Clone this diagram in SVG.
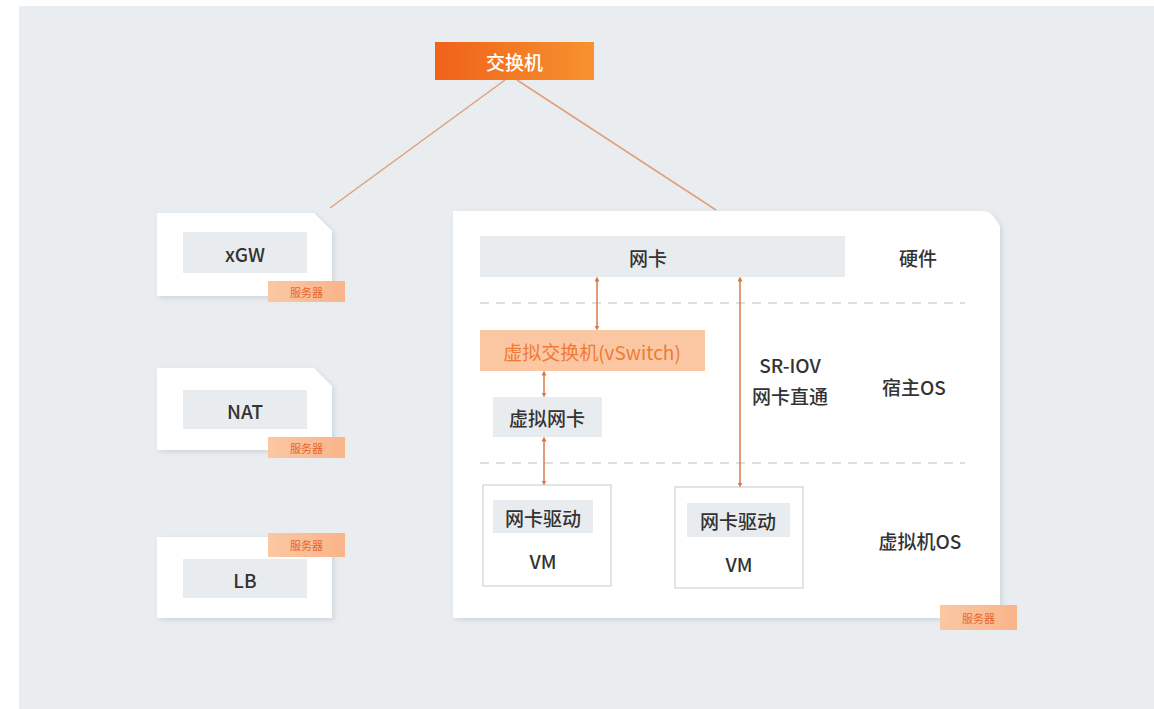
<svg xmlns="http://www.w3.org/2000/svg" width="1154" height="709" viewBox="0 0 1154 709">
<defs>
<style>
.t{font-family:"Noto Sans CJK SC","Noto Sans",sans-serif;text-anchor:middle;dominant-baseline:central}
.dark{fill:#333333;font-size:19px;font-weight:500}
.card{fill:#ffffff;filter:url(#sh)}
.gray{fill:#e9ecef}
.badge{fill:url(#bg)}
.btxt{fill:#e8642a;font-size:11px}
.dash{stroke:#d4d7da;stroke-width:1.5;stroke-dasharray:9 7;fill:none}
.lnk{stroke:#e1a078;stroke-width:1.5;fill:none}
.arr{stroke:#d9784a;stroke-width:1.5;fill:none;marker-start:url(#ah);marker-end:url(#ah)}
.vm{fill:#ffffff;stroke:#cfd3d6;stroke-width:1.2}
</style>
<linearGradient id="og" x1="0" y1="0" x2="1" y2="0">
<stop offset="0" stop-color="#f0621a"/><stop offset="1" stop-color="#f7922e"/>
</linearGradient>
<linearGradient id="bg" x1="0" y1="0" x2="1" y2="0">
<stop offset="0" stop-color="#fbc7a3"/><stop offset="1" stop-color="#f9b48a"/>
</linearGradient>
<filter id="sh" x="-10%" y="-10%" width="120%" height="120%">
<feDropShadow dx="2" dy="2" stdDeviation="2.5" flood-color="#9aa6b0" flood-opacity="0.35"/>
</filter>
<marker id="ah" viewBox="0 0 6 6" refX="3" refY="3" markerWidth="5" markerHeight="5" orient="auto-start-reverse" markerUnits="userSpaceOnUse">
<path d="M0,0 L6,3 L0,6 z" fill="#d9784a"/>
</marker>
</defs>
<rect x="19" y="6" width="1135" height="703" fill="#e9edf0"/>

<g id="connectors">
<line class="lnk" x1="505" y1="80" x2="330" y2="208"/>
<line class="lnk" x1="517" y1="80" x2="716" y2="210"/>
</g>

<g id="switch">
<rect x="435" y="42" width="159" height="38" fill="url(#og)"/>
<text class="t" x="514.5" y="61" fill="#ffffff" font-size="19" font-weight="500">交换机</text>
</g>

<g id="xgw">
<path class="card" d="M157,213 H314 L332,231 V296 H157 Z"/>
<rect class="gray" x="183" y="232" width="124" height="41"/>
<text class="t dark" x="245" y="253">xGW</text>
<rect class="badge" x="268" y="281" width="77" height="21"/>
<text class="t btxt" x="306.5" y="291.5">服务器</text>
</g>

<g id="nat">
<path class="card" d="M157,368 H314 L332,386 V450 H157 Z"/>
<rect class="gray" x="183" y="390" width="124" height="39"/>
<text class="t dark" x="245" y="410">NAT</text>
<rect class="badge" x="268" y="437" width="77" height="21"/>
<text class="t btxt" x="306.5" y="447.5">服务器</text>
</g>

<g id="lb">
<rect class="card" x="157" y="537" width="175" height="81"/>
<rect class="gray" x="183" y="559" width="124" height="39"/>
<text class="t dark" x="245" y="579">LB</text>
<rect class="badge" x="268" y="533" width="77" height="24"/>
<text class="t btxt" x="306.5" y="545">服务器</text>
</g>

<g id="host">
<path class="card" d="M453,211 H982 Q990,211 994,217 L1000,226 V618 H453 Z"/>
<rect class="badge" x="940" y="605" width="77" height="25"/>
<text class="t btxt" x="978.5" y="617.5">服务器</text>
<text class="t dark" x="918" y="257">硬件</text>
<text class="t dark" x="914" y="386">宿主OS</text>
<text class="t dark" x="920" y="540">虚拟机OS</text>
<line class="dash" x1="480" y1="303" x2="965" y2="303"/>
<line class="dash" x1="480" y1="463" x2="965" y2="463"/>
</g>

<g id="nic">
<rect class="gray" x="480" y="236" width="365" height="41"/>
<text class="t dark" x="648" y="257">网卡</text>
</g>

<g id="vswitch">
<rect x="480" y="330" width="225" height="41" fill="#fbc7a3"/>
<text class="t" x="592" y="351" fill="#f07a35" font-size="19">虚拟交换机(vSwitch)</text>
</g>

<g id="vnic">
<rect class="gray" x="493" y="397" width="109" height="40"/>
<text class="t dark" x="547" y="417">虚拟网卡</text>
</g>

<g id="sriov">
<text class="t dark" x="790" y="364">SR-IOV</text>
<text class="t dark" x="790" y="395">网卡直通</text>
</g>

<g id="vm1">
<rect class="vm" x="483" y="485" width="128" height="101"/>
<rect class="gray" x="493" y="500" width="100" height="33"/>
<text class="t dark" x="543" y="517">网卡驱动</text>
<text class="t dark" x="543" y="560">VM</text>
</g>

<g id="vm2">
<rect class="vm" x="675" y="487" width="128" height="101"/>
<rect class="gray" x="687" y="503" width="103" height="34"/>
<text class="t dark" x="738" y="520">网卡驱动</text>
<text class="t dark" x="739" y="563">VM</text>
</g>

<g id="arrows">
<line class="arr" x1="597" y1="279" x2="597" y2="328"/>
<line class="arr" x1="544" y1="373" x2="544" y2="395"/>
<line class="arr" x1="544" y1="439" x2="544" y2="483"/>
<line class="arr" x1="740" y1="279" x2="740" y2="485"/>
</g>
</svg>
